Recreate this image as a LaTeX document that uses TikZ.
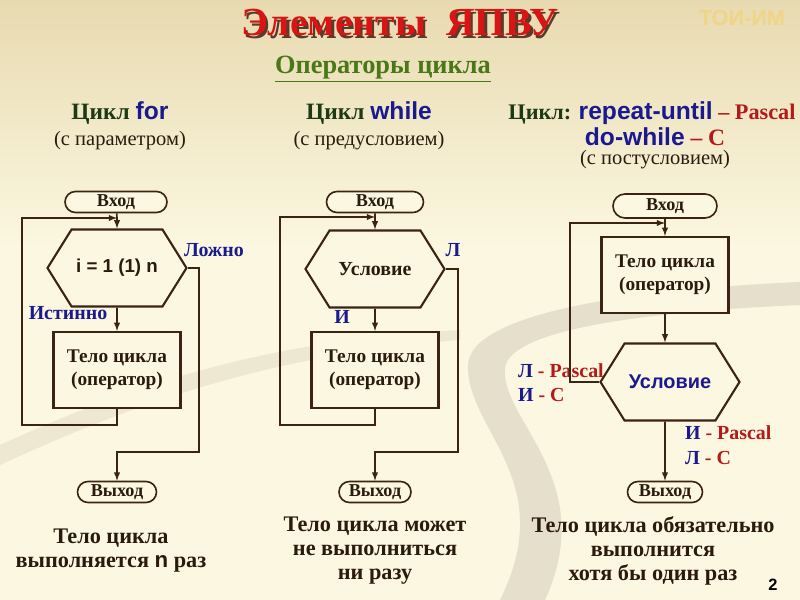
\documentclass[tikz,border=0pt]{standalone}
\usepackage{fontspec}
\setmainfont{Liberation Serif}
\setsansfont{Liberation Sans}
\usetikzlibrary{positioning,arrows,shapes.misc,shapes.symbols}
\definecolor{bgtop}{HTML}{E8DAB0}
\definecolor{bgbot}{HTML}{FBF7E0}
\definecolor{brn}{HTML}{3B2512}
\definecolor{ink}{HTML}{2B1B0E}
\definecolor{blu}{HTML}{1A1A8E}
\definecolor{dred}{HTML}{B41A1A}
\definecolor{ttlred}{HTML}{D81414}
\definecolor{shd}{HTML}{5A3A2A}
\definecolor{grn}{HTML}{4A7818}
\definecolor{dgrn}{HTML}{1E3A14}
\definecolor{toi}{HTML}{F0D588}
\definecolor{swirl}{HTML}{E6DFCB}
\newcommand{\ttltext}{Элементы\ \ ЯПВУ}
\newcommand{\kw}{\sffamily\bfseries\fontsize{21}{24}\selectfont}

\begin{document}
\begin{tikzpicture}[x=0.03cm,y=-0.03cm]
 \tikzset{line/.style={line width=1.4pt,draw=brn},
  arrow/.style={line,-latex},
  term/.style={rounded rectangle,draw=brn,line width=1.4pt,fill=bgbot,minimum height=0.63cm,inner sep=0pt,text=ink,font=\bfseries\fontsize{15.5}{18}\selectfont},
  body/.style={rectangle,draw=brn,line width=1.8pt,fill=bgbot,minimum width=3.81cm,minimum height=2.28cm,align=center,text=ink,font=\bfseries\fontsize{16.5}{19.6}\selectfont},
  hex/.style={signal,signal to=east and west,signal pointer angle=116,draw=brn,line width=1.8pt,fill=bgbot,minimum width=4.17cm,minimum height=2.31cm,inner sep=0pt,text=ink,font=\bfseries\fontsize{17}{20}\selectfont},
  lbl/.style={text=blu,font=\bfseries\fontsize{17}{20}\selectfont},
  head/.style={text=dgrn,font=\bfseries\fontsize{20}{23}\selectfont},
  sub/.style={text=ink,font=\fontsize{17.5}{20}\selectfont},
  note/.style={text=ink,align=center,font=\bfseries\fontsize{19}{20.4}\selectfont}}

 \useasboundingbox (0,0) rectangle (800,600);
 \fill[bgbot] (0,0) rectangle (800,600);
 \shade[top color=bgtop,bottom color=bgbot] (0,0) rectangle (800,245);
 \fill[swirl] (800,282) .. controls (620,290) and (470,315) .. (468,365) .. controls (466,430) and (560,480) .. (500,600) -- (545,600) .. controls (600,480) and (500,420) .. (505,368) .. controls (510,330) and (640,312) .. (800,305) -- cycle;
 \fill[swirl,opacity=0.6] (0,445) .. controls (120,390) and (260,340) .. (460,330) -- (460,340) .. controls (260,355) and (120,410) .. (0,465) -- cycle;

 \node[text=ttlred,font=\bfseries\fontsize{34}{38}\selectfont] (title) at (400,24) {\makebox[0pt][l]{\hspace{1.8pt}\raisebox{-1.8pt}{\color{shd}\ttltext}}\ttltext};
 \node[text=toi,font=\sffamily\bfseries\fontsize{18.5}{21}\selectfont] (toi) at (742,18) {ТОИ-ИМ};
 \node[text=grn,font=\bfseries\fontsize{22.5}{26}\selectfont] (ops) at (383,69) {\underline{Операторы цикла}};

 \node[head] (hdA) at (120,113) {Цикл {\color{blu}\kw for}};
 \node[sub] (subA) at (120,141) {(с параметром)};
 \node[head] (hdB) at (369,113) {Цикл {\color{blu}\kw while}};
 \node[sub] (subB) at (369,141) {(с предусловием)};
 \node[head,font=\bfseries\fontsize{19}{23}\selectfont] (hdC) at (652,113) {Цикл: {\color{blu}\kw repeat-until} {\color{dred}– Pascal}};
 \node[head] (hdC2) at (655,137) {{\color{blu}\kw do-while} {\color{dred}– C}};
 \node[sub] (subC) at (655,160) {(с постусловием)};

 \node[term,minimum width=3.06cm] (inA) at (116,202) {Вход};
 \coordinate (mA) at (117,218);
 \node[hex,font=\sffamily\bfseries\fontsize{16}{19}\selectfont] (hexA) at (117,268) {i = 1 (1) n};
 \node[body] (bodyA) at (117,370) {Тело цикла\\(оператор)};
 \node[term,minimum width=2.37cm] (outA) at (117,492) {Выход};
 \coordinate (lA) at (22,425);
 \coordinate (rA) at (199,452);
 \node[lbl] (falseA) at (214,250) {Ложно};
 \node[lbl] (trueA) at (68,313) {Истинно};
 \draw[line] (inA) -- (mA);
 \draw[arrow] (mA) -- (hexA);
 \draw[arrow] (hexA) -- (bodyA);
 \draw[arrow] (bodyA.south) |- (lA) |- (mA);
 \draw[arrow] (hexA.east) -| (rA) -| (outA);

 \node[term,minimum width=2.91cm] (inB) at (375,202) {Вход};
 \coordinate (mB) at (375,217);
 \node[hex] (hexB) at (375,269) {Условие};
 \node[body] (bodyB) at (375,370) {Тело цикла\\(оператор)};
 \node[term,minimum width=2.16cm] (outB) at (375,492) {Выход};
 \coordinate (lB) at (280,425);
 \coordinate (rB) at (458,452);
 \node[lbl] (falseB) at (453,250) {Л};
 \node[lbl] (trueB) at (342,317) {И};
 \draw[line] (inB) -- (mB);
 \draw[arrow] (mB) -- (hexB);
 \draw[arrow] (hexB) -- (bodyB);
 \draw[arrow] (bodyB.south) |- (lB) |- (mB);
 \draw[arrow] (hexB.east) -| (rB) -| (outB);

 \node[term,minimum width=3.12cm,minimum height=0.72cm] (inC) at (665,206) {Вход};
 \coordinate (mC) at (665,223);
 \node[body] (bodyC) at (665,275) {Тело цикла\\(оператор)};
 \node[hex,text=blu,font=\sffamily\bfseries\fontsize{17}{20}\selectfont] (hexC) at (670,382) {Условие};
 \node[term,minimum width=2.25cm] (outC) at (665,492) {Выход};
 \coordinate (lC) at (570,223);
 \node[lbl,anchor=west] (pasC) at (514,371) {Л {\color{dred}- Pascal}};
 \node[lbl,anchor=west] (cC) at (514,395) {И {\color{dred}- С}};
 \node[lbl,anchor=west] (pasC2) at (681,433) {И {\color{dred}- Pascal}};
 \node[lbl,anchor=west] (cC2) at (681,458) {Л {\color{dred}- С}};
 \draw[line] (inC) -- (mC);
 \draw[arrow] (mC) -- (bodyC);
 \draw[arrow] (bodyC) -- (bodyC |- hexC.north);
 \draw[arrow] (hexC.west) -| (lC) -- (mC);
 \draw[arrow] (hexC.south -| outC) -- (outC);

 \node[note] (noteA) at (111,551) {Тело цикла\\выполняется {\sffamily n} раз};
 \node[note] (noteB) at (375,551) {Тело цикла может\\не выполниться\\ни разу};
 \node[note] (noteC) at (653,551) {Тело цикла обязательно\\выполнится\\хотя бы один раз};
 \node[font=\sffamily\bfseries\fontsize{14}{17}\selectfont] (page) at (773,585) {2};
\end{tikzpicture}
\end{document}
